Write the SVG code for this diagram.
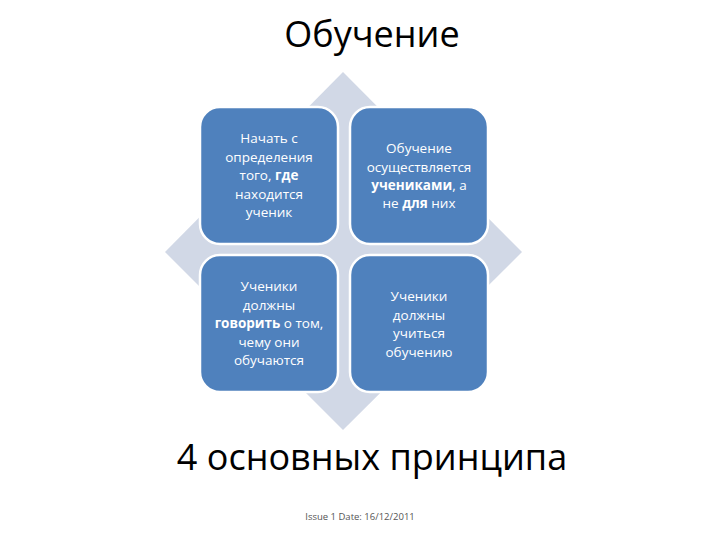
<svg xmlns="http://www.w3.org/2000/svg" width="720" height="540" viewBox="0 0 720 540">
<style>
.b{fill:#4f81bd;stroke:#fff;stroke-width:2.5}
.t{font-family:"Open Sans","DejaVu Sans",sans-serif;font-size:13.5px;fill:#fff;text-anchor:middle}
.bo{font-weight:bold}
</style>
<rect width="720" height="540" fill="#fff"/>
<text x="372" y="47" font-family="'Open Sans','DejaVu Sans',sans-serif" font-size="36" text-anchor="middle" fill="#000">Обучение</text>
<polygon points="343,72 522,252 343,430 165,252" fill="#d1d8e6"/>
<g id="n1"><rect class="b" x="200" y="107" width="138" height="137" rx="20"/>
<text class="t"><tspan x="269" y="143">Начать с</tspan><tspan x="269" y="162">определения</tspan><tspan x="269" y="180">того, <tspan class="bo">где</tspan></tspan><tspan x="269" y="199">находится</tspan><tspan x="269" y="217">ученик</tspan></text></g>
<g id="n2"><rect class="b" x="350" y="107" width="138" height="137" rx="20"/>
<text class="t"><tspan x="419" y="153">Обучение</tspan><tspan x="419" y="172">осуществляется</tspan><tspan x="419" y="190"><tspan class="bo">учениками</tspan>, а</tspan><tspan x="419" y="208">не <tspan class="bo">для</tspan> них</tspan></text></g>
<g id="n3"><rect class="b" x="200" y="255" width="138" height="137" rx="20"/>
<text class="t"><tspan x="269" y="291">Ученики</tspan><tspan x="269" y="310">должны</tspan><tspan x="269" y="328"><tspan class="bo">говорить</tspan> о том,</tspan><tspan x="269" y="347">чему они</tspan><tspan x="269" y="365">обучаются</tspan></text></g>
<g id="n4"><rect class="b" x="350" y="255" width="138" height="137" rx="20"/>
<text class="t"><tspan x="419" y="301">Ученики</tspan><tspan x="419" y="320">должны</tspan><tspan x="419" y="338">учиться</tspan><tspan x="419" y="357">обучению</tspan></text></g>
<g id="connectors"/>
<text x="372" y="470" font-family="'Open Sans','DejaVu Sans',sans-serif" font-size="36" text-anchor="middle" fill="#000">4 основных принципа</text>
<text x="360" y="520" font-family="'Open Sans','DejaVu Sans',sans-serif" font-size="9.5" text-anchor="middle" fill="#555">Issue 1 Date: 16/12/2011</text>
</svg>
